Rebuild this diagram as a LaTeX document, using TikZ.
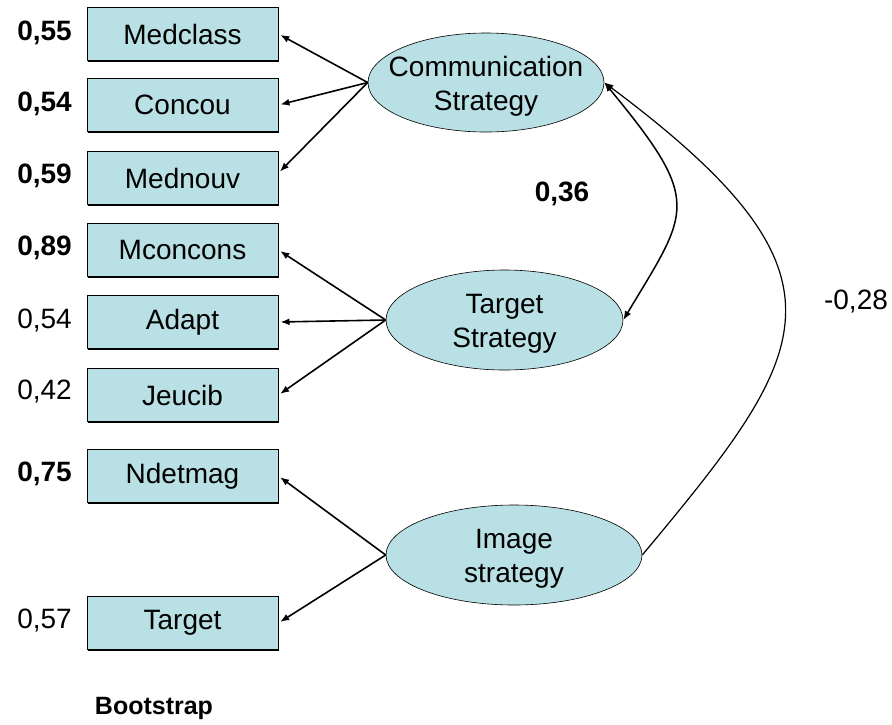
\documentclass[tikz,border=0pt]{standalone}
\usepackage{fontspec}
\setmainfont{Liberation Sans}
\usetikzlibrary{arrows.meta,shapes.geometric}
\definecolor{boxfill}{RGB}{185,224,228}
\begin{document}
\begin{tikzpicture}[x=1pt,y=-1pt,
  obs/.style={draw=black, line width=1pt, fill=boxfill,
    preaction={fill=black, transform canvas={shift={(1.4pt,-1.4pt)}}},
    minimum width=191pt, minimum height=53pt, inner sep=0pt,
    font=\fontsize{28}{32}\selectfont},
  lat/.style={ellipse, draw=black, line width=0.6pt, fill=boxfill, inner sep=0pt},
  lattext/.style={align=center, inner sep=0pt, yshift=-3.5pt, font=\fontsize{28}{34}\selectfont},
  load/.style={-{Latex[length=9pt,width=7pt]}, line width=1.6pt, shorten >=2pt},
  cov/.style={line width=1.5pt},
  num/.style={anchor=east, inner sep=0pt, font=\fontsize{28}{32}\selectfont},
  numb/.style={num, font=\fontsize{28}{32}\selectfont\bfseries},
]
\useasboundingbox (0,0) rectangle (892,724);

% observed indicators
\node[obs] (medclass) at (182.5,34)  {Medclass};
\node[obs] (concou)   at (182.5,105) {Concou};
\node[obs] (mednouv)  at (182.5,178) {Mednouv};
\node[obs] (mconcons) at (182.5,250) {Mconcons};
\node[obs] (adapt)    at (182.5,322) {Adapt};
\node[obs] (jeucib)   at (182.5,395) {Jeucib};
\node[obs] (ndetmag)  at (182.5,476) {Ndetmag};
\node[obs] (target)   at (182.5,623) {Target};

% loadings
\node[numb] (l1) at (72,33)  {0,55};
\node[numb] (l2) at (72,104) {0,54};
\node[numb] (l3) at (72,176) {0,59};
\node[numb] (l4) at (72,248) {0,89};
\node[num]  (l5) at (72,321) {0,54};
\node[num]  (l6) at (72,392) {0,42};
\node[numb] (l7) at (72,474) {0,75};
\node[num]  (l8) at (72,621) {0,57};

% latent factors (shape and caption kept apart so the text does not size the ellipse)
\node[lat, minimum width=236pt, minimum height=99pt] (comm) at (486,82.5) {};
\node[lattext] (commtxt) at (comm) {Communication\\Strategy};
\node[lat, minimum width=237pt, minimum height=100pt] (targ) at (504.5,320) {};
\node[lattext] (targtxt) at (targ) {Target\\Strategy};
\node[lat, minimum width=256pt, minimum height=100pt] (imag) at (514,555) {};
\node[lattext] (imagtxt) at (imag) {Image\\strategy};

% factor -> indicator arrows
\draw[load] (comm.west) -- (medclass.east);
\draw[load] (comm.west) -- (concou.east);
\draw[load] (comm.west) -- ([yshift=5pt]mednouv.east);
\draw[load] (targ.west) -- (mconcons.east);
\draw[load] (targ.west) -- (adapt.east);
\draw[load] (targ.west) -- (jeucib.east);
\draw[load] (imag.west) -- (ndetmag.east);
\draw[load] (imag.west) -- (target.east);

% covariances
\draw[cov, {Latex[length=9pt,width=7pt]}-{Latex[length=9pt,width=7pt]}]
  (comm.east) .. controls (703.5,202.6) and (689.3,209.8) .. (targ.east);
\draw[line width=1.2pt, {Latex[length=9pt,width=7pt]}-]
  (comm.east) .. controls (864,276.5) and (813,350.5) .. (imag.east);

\node[font=\fontsize{28}{32}\selectfont\bfseries] (c1) at (562,194) {0,36};
\node[font=\fontsize{28}{32}\selectfont] (c2) at (856,302) {-0,28};

\node[font=\fontsize{25}{30}\selectfont\bfseries] (boot) at (154,708) {Bootstrap};
\end{tikzpicture}
\end{document}
